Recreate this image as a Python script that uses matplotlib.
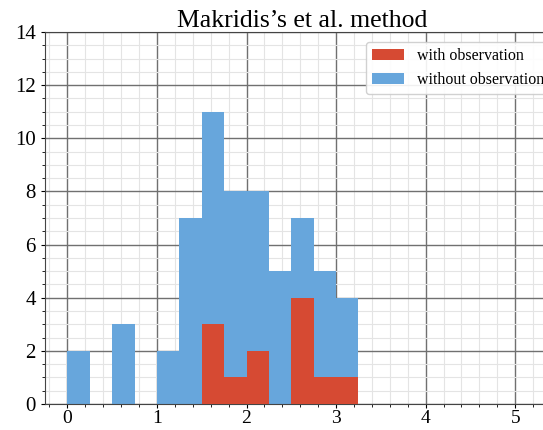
import matplotlib
matplotlib.use("Agg")
import matplotlib.pyplot as plt
import numpy as np
from matplotlib.ticker import MultipleLocator

# histogram bins (width 0.25) and counts
bin_edges = [0.0, 0.25, 0.5, 0.75, 1.0, 1.25, 1.5, 1.75, 2.0, 2.25, 2.5, 2.75, 3.0, 3.25]
without_obs = [2, 0, 3, 0, 2, 7, 11, 8, 8, 5, 7, 5, 4]
with_obs = [0, 0, 0, 0, 0, 0, 3, 1, 2, 0, 4, 1, 1]

plt.rcParams['font.family'] = ['Liberation Serif', 'DejaVu Serif']

fig = plt.figure(figsize=(5.43, 4.30), dpi=100)
ax = fig.add_axes([45/543, 26/430, (560-45)/543, (404-32)/430])

edges = np.array(bin_edges)
ax.bar(edges[:-1], without_obs, width=np.diff(edges), align='edge',
       color='#67a6dc', label='without observation', zorder=2)
ax.bar(edges[:-1], with_obs, width=np.diff(edges), align='edge',
       color='#d64a33', label='with observation', zorder=3)

ax.set_xlim(-0.25, 5.5)
ax.set_ylim(0, 14)
ax.xaxis.set_major_locator(MultipleLocator(1))
ax.xaxis.set_minor_locator(MultipleLocator(0.2))
ax.yaxis.set_major_locator(MultipleLocator(2))
ax.yaxis.set_minor_locator(MultipleLocator(0.5))
ax.grid(which='major', color='#707070', linewidth=1.0, zorder=0)
ax.grid(which='minor', color='#e4e4e4', linewidth=0.8, zorder=0)
ax.set_axisbelow(True)
ax.tick_params(labelsize=15)
ax.tick_params(axis='x', pad=1, labelsize=14)
ax.tick_params(which='major', length=3)
ax.tick_params(which='minor', length=2)
for s in ax.spines.values():
    s.set_color('#444444')

ax.set_title("Makridis\u2019s et al. method", fontsize=18.5, pad=3)

h, l = ax.get_legend_handles_labels()
ax.legend(h[::-1], l[::-1], loc='upper right', fontsize=11.5, framealpha=0.9,
          handlelength=2.0, borderaxespad=0.6)

fig.savefig("out.png", dpi=100)
